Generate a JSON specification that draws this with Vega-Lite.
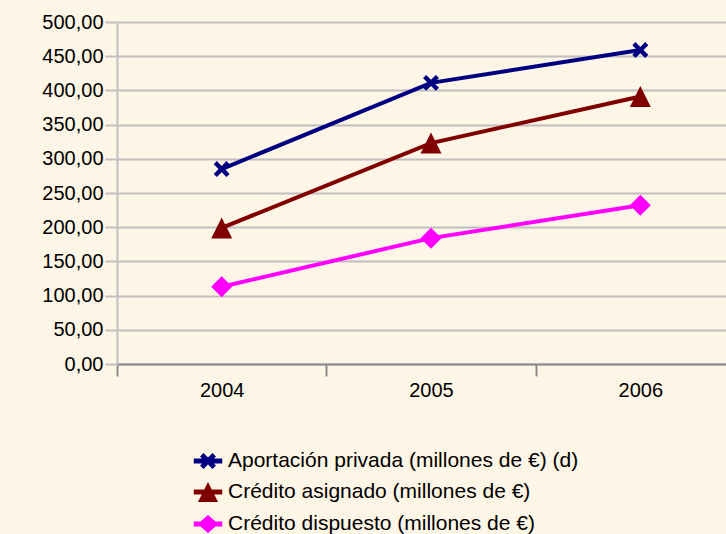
{
  "$schema": "https://vega.github.io/schema/vega-lite/v6.json",
  "width": 628,
  "height": 342,
  "autosize": {"type": "none"},
  "padding": {"left": 117, "top": 22, "right": 0, "bottom": 170},
  "background": "#fdf5e6",
  "config": {"view": {"stroke": null}, "font": "Liberation Sans"},
  "data": {
    "values": [
      {"year": "2004", "serie": "Aportación privada (millones de €) (d)", "value": 285},
      {"year": "2005", "serie": "Aportación privada (millones de €) (d)", "value": 411},
      {"year": "2006", "serie": "Aportación privada (millones de €) (d)", "value": 459},
      {"year": "2004", "serie": "Crédito asignado (millones de €)", "value": 199},
      {"year": "2005", "serie": "Crédito asignado (millones de €)", "value": 323},
      {"year": "2006", "serie": "Crédito asignado (millones de €)", "value": 391},
      {"year": "2004", "serie": "Crédito dispuesto (millones de €)", "value": 113},
      {"year": "2005", "serie": "Crédito dispuesto (millones de €)", "value": 184},
      {"year": "2006", "serie": "Crédito dispuesto (millones de €)", "value": 232}
    ]
  },
  "encoding": {
    "x": {
      "field": "year", "type": "ordinal",
      "scale": {"type": "band", "paddingInner": 0, "paddingOuter": 0},
      "axis": {
        "title": null, "labelAngle": 0, "labelFontSize": 20, "labelColor": "#000000",
        "labelPadding": 4, "domainColor": "#8c8c8c", "domainWidth": 2,
        "tickColor": "#8c8c8c", "tickWidth": 2, "tickSize": 12, "tickBand": "extent", "grid": false
      }
    },
    "y": {
      "field": "value", "type": "quantitative",
      "scale": {"domain": [0, 500], "nice": false},
      "axis": {
        "title": null, "values": [0, 50, 100, 150, 200, 250, 300, 350, 400, 450, 500],
        "labelExpr": "replace(format(datum.value, '.2f'), '.', ',')",
        "labelFontSize": 20, "labelColor": "#000000", "labelPadding": 2,
        "grid": true, "gridColor": "#c0c0c0", "gridWidth": 2,
        "domainColor": "#c0c0c0", "domainWidth": 2,
        "tickColor": "#c0c0c0", "tickWidth": 2, "tickSize": 12
      }
    },
    "color": {
      "field": "serie", "type": "nominal",
      "scale": {
        "domain": ["Aportación privada (millones de €) (d)", "Crédito asignado (millones de €)", "Crédito dispuesto (millones de €)"],
        "range": ["#000080", "#800000", "#ff00ff"]
      },
      "legend": {
        "title": null, "orient": "none", "legendX": 76, "legendY": 424, "padding": 0,
        "labelFontSize": 21, "labelColor": "#000000", "labelOffset": 5, "labelLimit": 0,
        "symbolSize": 900, "rowPadding": 6,
        "encode": {"symbols": {"update": {"opacity": {"value": 1}, "strokeWidth": {"value": 0}}}}
      }
    }
  },
  "layer": [
    {"mark": {"type": "line", "strokeWidth": 4}},
    {
      "mark": {"type": "point", "filled": true, "size": 0},
      "encoding": {
        "shape": {
          "field": "serie", "type": "nominal",
          "scale": {
            "domain": ["Aportación privada (millones de €) (d)", "Crédito asignado (millones de €)", "Crédito dispuesto (millones de €)"],
            "range": [
              "M-0.95,-0.17H0.95V0.17H-0.95Z M-0.53,-0.3L-0.3,-0.53L0,-0.23L0.3,-0.53L0.53,-0.3L0.23,0L0.53,0.3L0.3,0.53L0,0.23L-0.3,0.53L-0.53,0.3L-0.23,0Z",
              "M-0.95,-0.17H0.95V0.17H-0.95Z M0,-0.67L0.67,0.67L-0.67,0.67Z",
              "M-0.95,-0.17H0.95V0.17H-0.95Z M0,-0.6L0.7,0L0,0.6L-0.7,0Z"
            ]
          }
        }
      }
    },
    {
      "transform": [{"filter": "datum.serie === 'Aportación privada (millones de €) (d)'"}],
      "mark": {"type": "point", "filled": true, "opacity": 1, "size": 441,
        "shape": "M-0.76,-0.46L-0.46,-0.76L0,-0.3L0.46,-0.76L0.76,-0.46L0.3,0L0.76,0.46L0.46,0.76L0,0.3L-0.46,0.76L-0.76,0.46L-0.3,0Z"}
    },
    {
      "transform": [{"filter": "datum.serie === 'Crédito asignado (millones de €)'"}],
      "mark": {"type": "point", "filled": true, "opacity": 1, "size": 441, "shape": "M0,-1L1,1L-1,1Z"}
    },
    {
      "transform": [{"filter": "datum.serie === 'Crédito dispuesto (millones de €)'"}],
      "mark": {"type": "point", "filled": true, "opacity": 1, "size": 441, "shape": "M0,-1L1,0L0,1L-1,0Z"}
    }
  ]
}
